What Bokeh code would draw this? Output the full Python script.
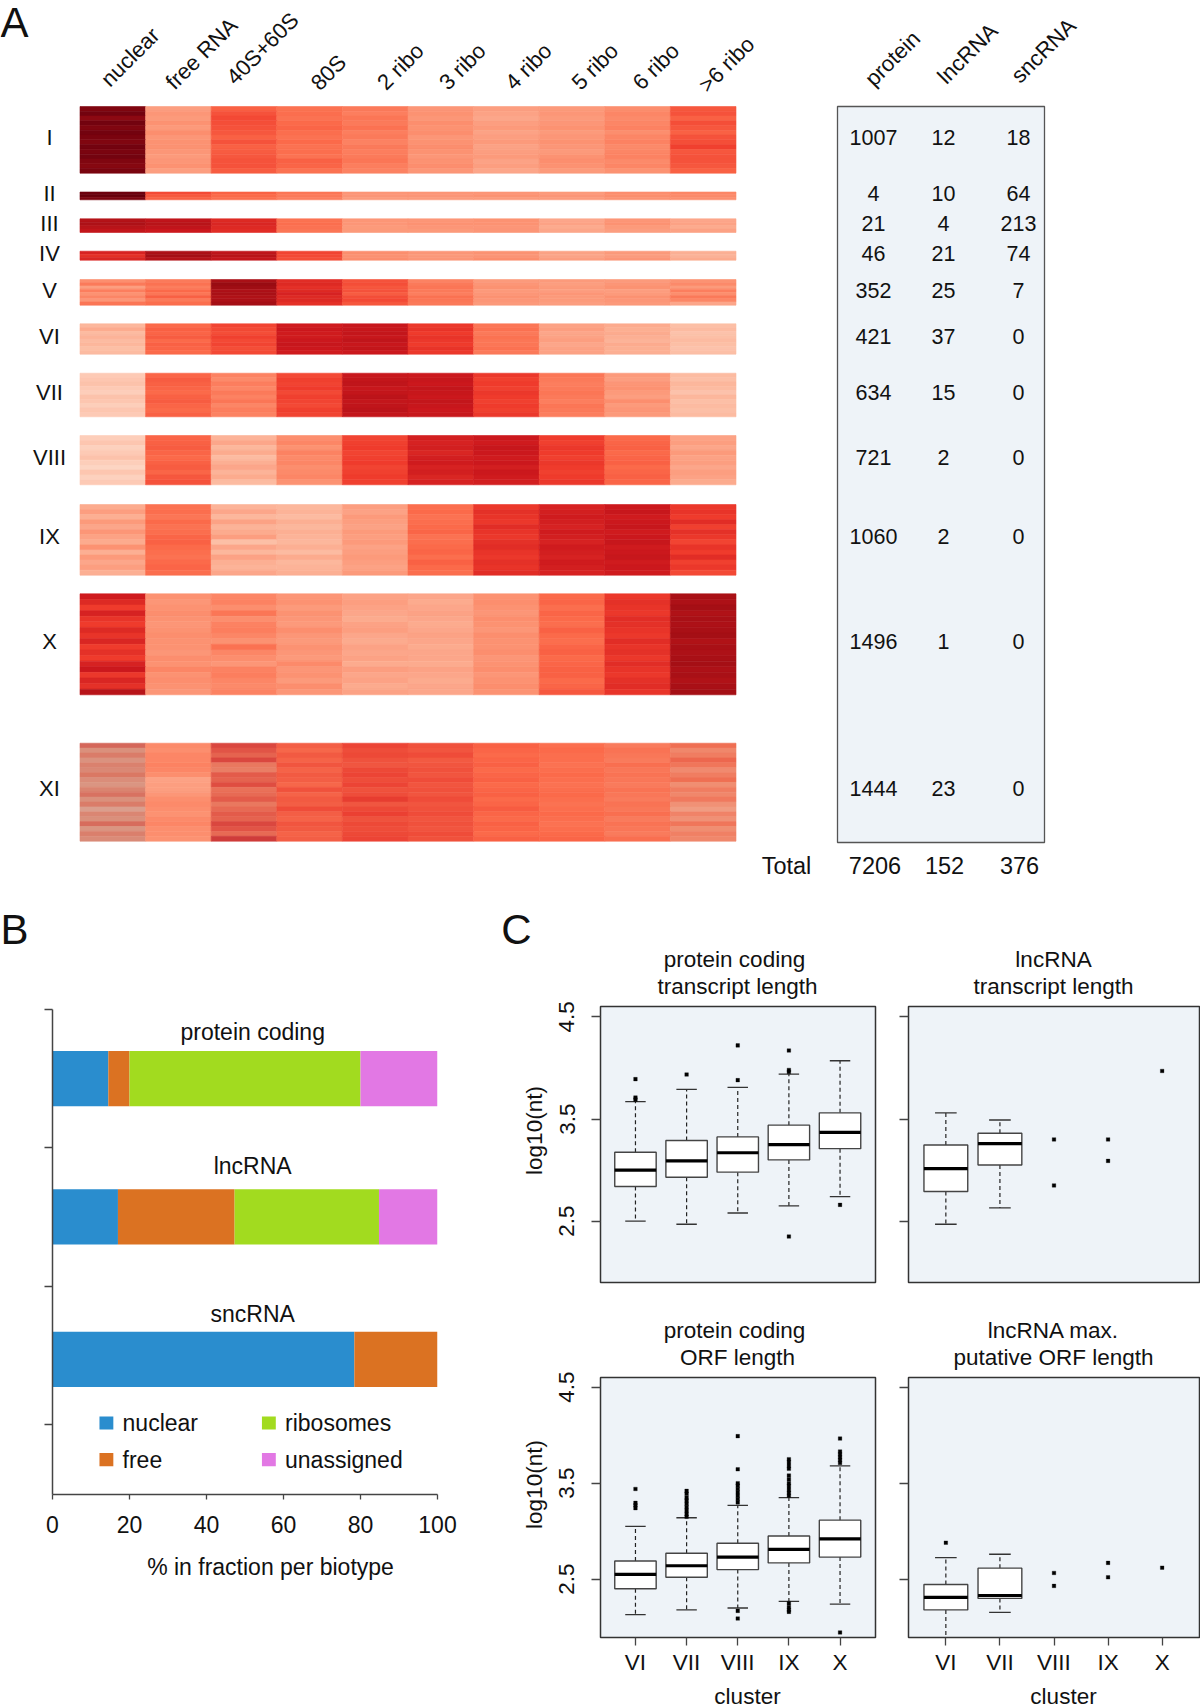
from bokeh.embed import file_html
from bokeh.resources import INLINE
from bokeh.plotting import figure
from bokeh.layouts import column, row
from bokeh.models import Range1d, FixedTicker, ColumnDataSource
from bokeh.core.properties import value

# ---------------- DATA ----------------
fractions = ["nuclear", "free RNA", "40S+60S", "80S", "2 ribo", "3 ribo", "4 ribo", "5 ribo", "6 ribo", ">6 ribo"]
clusters = ["I", "II", "III", "IV", "V", "VI", "VII", "VIII", "IX", "X", "XI"]
protein_counts = [1007, 4, 21, 46, 352, 421, 634, 721, 1060, 1496, 1444]
lncrna_counts = [12, 10, 4, 21, 25, 37, 15, 2, 2, 1, 23]
sncrna_counts = [18, 64, 213, 74, 7, 0, 0, 0, 0, 0, 0]
totals = [7206, 152, 376]
biotypes_header = ["protein", "lncRNA", "sncRNA"]

# heat values: position on the 9-step red ramp x 10 (0 = palest, 80 = darkest)
heat_I = [
 [76,27,42,38,36,29,27,28,31,44],[78,29,45,39,35,30,26,29,33,45],[74,28,47,38,37,29,25,28,32,42],
 [78,30,46,40,36,31,27,29,33,46],[76,28,45,41,38,30,28,30,34,44],[78,31,44,39,35,31,26,28,31,42],
 [77,29,42,38,36,29,27,29,33,45],[76,30,45,40,34,30,28,30,34,46],[78,30,42,38,36,31,26,29,32,49],
 [77,29,43,39,35,30,27,28,33,44],[78,28,44,38,36,29,28,30,34,45],[76,29,45,42,37,30,26,31,32,45],
 [75,30,45,41,35,31,27,30,33,44],[77,27,43,38,34,29,25,28,30,42]]
heat_II = [[79,47,42,37,29,29,29,28,31,33],[80,44,40,36,29,29,30,29,31,32],[77,42,39,35,28,28,28,28,30,31]]
heat_III = [[66,63,55,38,29,29,30,25,29,25],[68,65,56,39,29,30,30,26,30,26],[65,63,55,38,28,29,29,24,28,24],[62,60,54,37,28,28,29,25,27,26]]
heat_IV = [[57,68,63,48,31,29,30,26,28,23],[53,70,65,47,30,28,29,25,27,22],[56,66,62,46,31,29,31,27,29,24]]
heat_V = [
 [31,36,69,54,45,34,28,28,28,30],[36,38,72,55,46,36,29,27,29,32],[27,35,71,53,44,37,30,28,30,28],
 [35,40,68,55,45,36,28,27,27,35],[30,37,69,57,43,35,29,29,28,31],[33,42,67,55,46,38,30,28,30,36],
 [29,36,68,55,47,37,29,28,29,33],[37,39,70,53,44,36,28,27,28,25]]
heat_VI = [
 [21,40,48,59,61,51,37,26,24,19],[24,42,47,60,61,52,38,27,23,20],[20,41,46,59,62,50,36,25,24,18],
 [22,43,49,59,61,52,38,26,23,19],[20,40,47,60,63,51,37,27,22,20],[21,42,48,61,61,50,37,25,24,19],
 [19,41,46,60,62,52,38,26,23,18],[20,40,47,59,60,51,36,26,23,19]]
heat_VII = [
 [16,41,34,47,61,60,51,37,28,20],[17,43,32,49,62,61,49,36,27,19],[18,42,35,48,63,60,50,35,29,21],
 [16,41,33,50,61,62,49,36,30,20],[15,40,36,47,62,61,51,37,28,18],[18,42,34,49,64,60,50,36,27,21],
 [17,43,37,48,62,62,49,35,31,19],[15,41,33,47,63,61,50,37,28,20],[17,40,35,49,64,60,49,36,29,19],
 [16,42,34,48,62,61,51,35,28,20]]
heat_VIII = [
 [15,41,22,31,48,58,60,50,40,26],[17,42,25,33,49,57,59,49,41,27],[14,43,21,30,50,58,61,51,42,25],
 [16,41,24,34,48,56,60,50,40,28],[18,40,20,32,49,58,59,49,41,26],[15,42,23,33,50,59,60,51,42,27],
 [13,43,25,31,48,57,58,50,40,25],[17,41,22,32,49,58,60,49,41,27],[14,44,24,33,50,56,59,50,42,26],
 [16,45,20,30,49,57,58,51,41,24]]
heat_IX = [
 [24,38,22,21,27,39,51,57,60,51],[27,39,25,22,26,40,53,58,61,52],[23,37,21,20,28,38,52,59,59,50],
 [28,40,26,23,27,39,51,58,60,54],[25,38,22,21,26,40,54,57,61,49],[29,39,24,23,28,41,52,59,59,53],
 [26,41,27,22,27,38,51,58,60,51],[24,42,19,21,28,39,53,57,61,48],[30,40,25,23,26,40,54,59,59,52],
 [23,39,21,20,27,41,52,58,60,50],[28,38,26,24,28,39,51,57,61,54],[25,40,23,21,27,42,53,59,59,49],
 [27,41,22,22,26,40,52,58,60,51],[23,39,25,23,28,39,54,57,59,47]]
heat_X = [
 [59,30,33,29,26,25,30,40,51,69],[55,29,34,30,27,24,31,41,53,68],[50,30,31,28,26,25,30,39,52,70],
 [57,31,37,30,25,26,29,41,51,67],[52,30,31,29,24,25,31,40,54,69],[50,29,34,28,26,24,30,39,53,68],
 [55,30,35,31,27,25,29,42,52,69],[52,31,33,29,25,26,31,40,51,70],[56,30,30,28,24,25,30,39,54,67],
 [50,30,38,30,26,24,30,41,52,69],[53,29,33,29,25,25,31,42,53,68],[50,31,31,28,26,25,29,40,51,69],
 [57,30,29,32,24,24,30,41,54,70],[60,33,34,29,27,26,31,42,52,68],[51,30,35,30,25,25,29,42,51,69],
 [56,31,33,28,26,24,30,40,53,67],[53,30,32,31,24,25,31,41,54,69],[65,29,34,29,26,25,30,44,52,70]]
heat_XI = [
 [46,32,52,43,49,46,42,39,36,40],[30,31,48,41,47,45,41,40,38,33],[38,33,44,44,48,47,40,39,37,36],
 [29,33,52,42,46,44,41,39,36,42],[36,34,38,45,45,45,42,38,39,38],[33,33,36,42,48,46,40,39,37,32],
 [40,31,46,44,49,45,41,40,38,36],[31,26,44,43,47,47,42,39,37,40],[28,27,50,41,49,45,40,38,36,31],
 [35,27,40,46,46,46,41,39,38,36],[42,29,42,42,47,45,42,40,37,33],[30,31,46,44,51,47,40,39,36,37],
 [38,32,38,43,45,45,41,38,38,30],[24,31,42,47,48,46,43,39,37,27],[34,30,46,43,50,47,41,40,39,34],
 [30,32,44,42,46,45,40,39,36,30],[44,33,52,45,48,46,42,38,38,38],[28,31,48,44,47,45,41,39,37,31],
 [37,31,42,42,48,47,40,40,36,35],[32,30,56,43,49,46,42,41,39,33]]
heat_blocks = [heat_I, heat_II, heat_III, heat_IV, heat_V, heat_VI, heat_VII, heat_VIII, heat_IX, heat_X, heat_XI]

# panel B
bar_names = ["protein coding", "lncRNA", "sncRNA"]
bar_nuclear = [14.5, 17.0, 78.4]
bar_free = [5.5, 30.3, 21.6]
bar_ribosomes = [60.0, 37.5, 0.0]
bar_unassigned = [20.0, 15.2, 0.0]
legend_names = ["nuclear", "free", "ribosomes", "unassigned"]

# panel C  (cluster position, q1, median, q3, whisker low, whisker high)
cluster_names = ["VI", "VII", "VIII", "IX", "X"]
prot_tx_box = [(1,2.84,3.00,3.175,2.50,3.67),(2,2.93,3.09,3.29,2.47,3.79),(3,2.98,3.17,3.325,2.58,3.81),
               (4,3.10,3.25,3.44,2.65,3.94),(5,3.21,3.37,3.56,2.74,4.07)]
prot_tx_x = [1,1,1,2,3,3,4,4,4,4,5]
prot_tx_y = [3.89,3.71,3.69,3.935,3.88,4.22,3.98,3.96,4.17,2.35,2.66]
lnc_tx_box = [(1,2.79,3.015,3.245,2.47,3.56),(2,3.05,3.26,3.36,2.63,3.49)]
lnc_tx_x = [3,3,4,4,5]
lnc_tx_y = [3.30,2.85,3.30,3.09,3.97]
prot_orf_box = [(1,2.40,2.55,2.69,2.13,3.05),(2,2.52,2.64,2.77,2.18,3.14),(3,2.60,2.73,2.875,2.20,3.27),
                (4,2.67,2.81,2.95,2.27,3.35),(5,2.73,2.92,3.115,2.24,3.68)]
prot_orf_y = [3.44,3.295,3.27,3.24,
              3.42,3.39,3.35,3.32,3.285,3.25,3.215,3.18,3.15,
              3.99,3.645,3.5,3.475,3.44,3.405,3.37,3.335,3.30,2.17,2.09,
              3.75,3.72,3.68,3.65,3.58,3.54,3.5,3.47,3.43,3.4,3.37,2.25,2.21,2.18,2.16,
              3.965,3.83,3.8,3.77,3.74,3.71,1.945]
prot_orf_x = [1]*4 + [2]*9 + [3]*11 + [4]*15 + [5]*7
lnc_orf_box = [(1,2.18,2.31,2.445,1.85,2.725),(2,2.30,2.33,2.615,2.155,2.76)]
lnc_orf_x = [1,3,3,4,4,5]
lnc_orf_y = [2.88,2.565,2.43,2.67,2.52,2.62]

# ---------------- STYLE / LAYOUT ----------------
FONT = "Liberation Sans"
RAMP = ["#FFF5F0","#FEE0D2","#FCBBA1","#FC9272","#FB6A4A","#EF3B2C","#CB181D","#A50F15","#67000D"]
PANEL_BG = "#EEF3F8"
INK = "#111111"
LINE = "#444444"
FS = "22px"
FS_B = "23px"
COL_BIO = ["#2A8DCE", "#DB7222", "#A2DB1F", "#E278E4"]
PAGE_W, PAGE_H, A_H = 1200, 1708, 890

def ramp(v):
    t = max(0.0, min(7.999, v / 10))
    i = int(t); f = t - i
    a, b = RAMP[i], RAMP[i + 1]
    return [int(a[k:k+2], 16) * (1 - f) + int(b[k:k+2], 16) * f for k in (1, 3, 5)]

def hexcol(rgb):
    return "#%02X%02X%02X" % tuple(int(round(c)) for c in rgb)

def dull(rgb, amount):
    grey = (168, 140, 140)
    return [c * (1 - amount) + g * amount for c, g in zip(rgb, grey)]

XI_DULL = [0.40, 0.0, 0.22, 0.05, 0.06, 0.05, 0.0, 0.0, 0.03, 0.14]

# ---------- Panel A + all free page text (the page-sized figure underneath) ----------
pa = figure(width=PAGE_W, height=PAGE_H, x_range=Range1d(0, PAGE_W), y_range=Range1d(PAGE_H, 0),
            x_axis_type=None, y_axis_type=None, toolbar_location=None, output_backend="svg",
            min_border=0, outline_line_color=None, background_fill_color="white")
pa.grid.visible = False

heat_left, col_w = 79.5, 65.6
block_top = [106, 191.5, 218.3, 250.7, 279, 323.3, 372.7, 435, 504, 593.3, 742.7]
block_bot = [172.7, 199.3, 232, 259.7, 304.7, 353.7, 416.3, 484.3, 574.7, 694.3, 840.7]
row_y = [137, 193, 223, 253, 290, 336, 392, 457, 536, 641, 788]

L, R, T, B, C = [], [], [], [], []
for k, block in enumerate(heat_blocks):
    h = (block_bot[k] - block_top[k]) / len(block)
    for r, vals in enumerate(block):
        for c, v in enumerate(vals):
            rgb = ramp(v)
            if k == 10:
                rgb = dull(rgb, XI_DULL[c])
            L.append(heat_left + c * col_w); R.append(heat_left + (c + 1) * col_w)
            T.append(block_top[k] + r * h); B.append(block_top[k] + (r + 1) * h)
            C.append(hexcol(rgb))
pa.quad(left="l", right="r", top="t", bottom="b", fill_color="c", line_color="c", line_width=0.6,
        source=ColumnDataSource(dict(l=L, r=R, t=T, b=B, c=C)))

tkw = dict(text_font=value(FONT), text_color=INK, text_align="center", text_baseline="middle")
pa.text(x=[49] * 11, y=row_y, text=clusters, text_font_size=FS, **tkw)

head_x = [129.6, 201, 262, 328, 400, 462, 528, 594.5, 655.5, 726]
head_y = [56.6, 53, 48, 72, 66, 66, 66, 66, 66, 64]
pa.text(x=head_x, y=head_y, text=fractions, angle=45, angle_units="deg", text_font_size=FS, **tkw)

pa.quad(left=[837], right=[1044], top=[106], bottom=[842], fill_color=PANEL_BG, line_color="#555555", line_width=1.3)
tbl_x = [873, 943, 1018]
for xx, arr in zip(tbl_x, (protein_counts, lncrna_counts, sncrna_counts)):
    pa.text(x=[xx] * 11, y=row_y, text=[str(v) for v in arr], text_font_size="21.5px", **tkw)
pa.text(x=[892, 967, 1043], y=[58, 53, 50], text=biotypes_header, angle=45, angle_units="deg", text_font_size=FS, **tkw)
pa.text(x=[786], y=[865], text=["Total"], text_font_size="23.5px", **tkw)
pa.text(x=[874.5, 944, 1019], y=[865] * 3, text=[str(t) for t in totals], text_font_size="23.5px", **tkw)

# panel letters
pa.text(x=[14, 14, 516], y=[22, 929, 929], text=["A", "B", "C"], text_font_size="42px", **tkw)
# panel B x title
pa.text(x=[270], y=[1566], text=["% in fraction per biotype"], text_font_size=FS_B, **tkw)
# panel C titles and axis titles
pa.text(x=[734, 737, 1053, 1053, 734, 737, 1053, 1053],
        y=[959, 986, 959, 986, 1330, 1357, 1330, 1357],
        text=["protein coding", "transcript length", "lncRNA", "transcript length",
              "protein coding", "ORF length", "lncRNA max.", "putative ORF length"],
        text_font_size="22.5px", **tkw)
pa.text(x=[534, 534], y=[1130, 1484], text=["log10(nt)", "log10(nt)"], angle=90, angle_units="deg",
        text_font_size="22.5px", **tkw)
pa.text(x=[747, 1063], y=[1696, 1696], text=["cluster", "cluster"], text_font_size="22.5px", **tkw)

# ---------- Panel B ----------
bspan = 485 / 138.3
pb = figure(width=490, height=818, x_range=Range1d(0, 100), y_range=Range1d(bspan, 0),
            toolbar_location=None, output_backend="svg", frame_width=385, frame_height=485,
            min_border_left=52, min_border_right=53, min_border_top=119, min_border_bottom=214,
            outline_line_color=None, border_fill_color=None, background_fill_color=None)
pb.grid.visible = False
pb.xaxis.ticker = FixedTicker(ticks=[0, 20, 40, 60, 80, 100])
pb.yaxis.ticker = FixedTicker(ticks=[0, 1, 2, 3])
pb.yaxis.major_label_text_color = None
pb.yaxis.major_label_standoff = 0
for ax in (pb.xaxis[0], pb.yaxis[0]):
    ax.axis_line_color = LINE
    ax.axis_line_width = 1.5
    ax.major_tick_line_color = LINE
    ax.major_tick_line_width = 1.3
    ax.major_tick_in = 0
    ax.minor_tick_line_color = None
pb.yaxis.major_tick_out = 8
pb.xaxis.major_tick_out = 5
pb.xaxis.major_label_text_font = FONT
pb.xaxis.major_label_text_font_size = FS_B
pb.xaxis.major_label_text_color = INK
pb.xaxis.major_label_standoff = 16

bar_y = [0.5, 1.5, 2.53]
left = [0.0, 0.0, 0.0]
for series, colr in zip((bar_nuclear, bar_free, bar_ribosomes, bar_unassigned), COL_BIO):
    right = [a + b for a, b in zip(left, series)]
    pb.hbar(y=bar_y, left=left, right=right, height=0.4, fill_color=colr, line_color=None)
    left = right

pb.text(x=[52, 52, 52], y=[0.16, 1.13, 2.2], text=bar_names, text_font=value(FONT), text_font_size=FS_B,
        text_color=INK, text_align="center", text_baseline="middle")
leg_x = [14.0, 14.0, 56.2, 56.2]
leg_y = [2.99, 3.255, 2.99, 3.255]
pb.rect(x=leg_x, y=leg_y, width=3.6, height=0.095, fill_color=COL_BIO, line_color=None)
pb.text(x=[x + 4.2 for x in leg_x], y=leg_y, text=legend_names, text_font=value(FONT), text_font_size=FS_B,
        text_color=INK, text_align="left", text_baseline="middle")


# ---------- Panel C ----------
def boxfig(box, ylim, left_b, right_b, top_b, bot_b, labels_y, labels_x, xlim):
    fx0, fy0, fw, fh = box
    p = figure(width=left_b + fw + right_b, height=top_b + fh + bot_b, x_range=Range1d(*xlim), y_range=Range1d(*ylim),
               toolbar_location=None, output_backend="svg", frame_width=fw, frame_height=fh,
               min_border_left=left_b, min_border_right=right_b, min_border_top=top_b, min_border_bottom=bot_b,
               background_fill_color=PANEL_BG, outline_line_color="#333333", outline_line_width=1.5,
               border_fill_color=None)
    p.grid.visible = False
    p.yaxis.ticker = FixedTicker(ticks=[2.5, 3.5, 4.5])
    p.yaxis.major_tick_in = 0
    p.yaxis.major_tick_out = 9
    p.yaxis.minor_tick_line_color = None
    p.yaxis.axis_line_color = None
    p.yaxis.major_tick_line_color = LINE
    p.yaxis.major_tick_line_width = 1.3
    p.yaxis.major_label_orientation = "vertical"
    if labels_y:
        p.yaxis.major_label_text_font = FONT
        p.yaxis.major_label_text_font_size = "22.5px"
        p.yaxis.major_label_text_color = INK
        p.yaxis.major_label_standoff = 17
    else:
        p.yaxis.major_label_text_color = None
        p.yaxis.major_label_standoff = 0
    p.xaxis.ticker = FixedTicker(ticks=[1, 2, 3, 4, 5])
    p.xaxis.major_label_overrides = {i + 1: n for i, n in enumerate(cluster_names)}
    p.xaxis.axis_line_color = None
    p.xaxis.minor_tick_line_color = None
    if labels_x:
        p.xaxis.major_tick_in = 0
        p.xaxis.major_tick_out = 8
        p.xaxis.major_tick_line_color = LINE
        p.xaxis.major_tick_line_width = 1.3
        p.xaxis.major_label_text_font = FONT
        p.xaxis.major_label_text_font_size = "22.5px"
        p.xaxis.major_label_text_color = INK
        p.xaxis.major_label_standoff = 4
    else:
        p.xaxis.visible = False
    return p


def draw_box(p, boxes, ox, oy):
    pos = [b[0] for b in boxes]
    q1 = [b[1] for b in boxes]; med = [b[2] for b in boxes]; q3 = [b[3] for b in boxes]
    lo = [b[4] for b in boxes]; hi = [b[5] for b in boxes]
    dkw = dict(line_color="#222222", line_width=1.2, line_dash="4 3")
    p.segment(x0=pos, x1=pos, y0=q3, y1=hi, **dkw)
    p.segment(x0=pos, x1=pos, y0=q1, y1=lo, **dkw)
    cap = 0.2
    ckw = dict(line_color="#333333", line_width=1.3)
    p.segment(x0=[x - cap for x in pos], x1=[x + cap for x in pos], y0=hi, y1=hi, **ckw)
    p.segment(x0=[x - cap for x in pos], x1=[x + cap for x in pos], y0=lo, y1=lo, **ckw)
    p.vbar(x=pos, bottom=q1, top=q3, width=0.81, fill_color="white", line_color="#444444", line_width=1.4)
    p.segment(x0=[x - 0.405 for x in pos], x1=[x + 0.405 for x in pos], y0=med, y1=med,
              line_color="black", line_width=3.2)
    p.scatter(x=ox, y=oy, marker="square", size=3.6, fill_color="black", line_color="black", line_width=0.3)


XL1 = (1 - 35 / 51.2, 5 + 35.5 / 51.2)
XL2 = (1 - 37.3 / 54, 5 + 37.3 / 54)
Y1 = (2.5 - (1282 - 1220.7) / 102.2, 4.5 + (1016.3 - 1006) / 102.2)
Y2 = (2.5 - (1637 - 1578.7) / 96, 4.5 + (1386.7 - 1377) / 96)

box1 = (600, 1006, 275, 276)
box2 = (908, 1006, 291, 276)
box3 = (600, 1377, 275, 260)
box4 = (908, 1377, 291, 260)

c1 = boxfig(box1, Y1, 110, 15, 116, 18, True, False, XL1)
c2 = boxfig(box2, Y1, 18, 1, 116, 18, False, False, XL2)
c3 = boxfig(box3, Y2, 110, 15, 77, 71, True, True, XL1)
c4 = boxfig(box4, Y2, 18, 1, 77, 71, False, True, XL2)

draw_box(c1, prot_tx_box, prot_tx_x, prot_tx_y)
draw_box(c2, lnc_tx_box, lnc_tx_x, lnc_tx_y)
draw_box(c3, prot_orf_box, prot_orf_x, prot_orf_y)
draw_box(c4, lnc_orf_box, lnc_orf_x, lnc_orf_y)

lower = row(pb, column(row(c1, c2, spacing=0), row(c3, c4, spacing=0), spacing=0), spacing=0)
lower.styles = {"margin-top": "-%dpx" % (PAGE_H - A_H)}
root = column(pa, lower, spacing=0)
open("out.html", "w").write(file_html(root, INLINE))
